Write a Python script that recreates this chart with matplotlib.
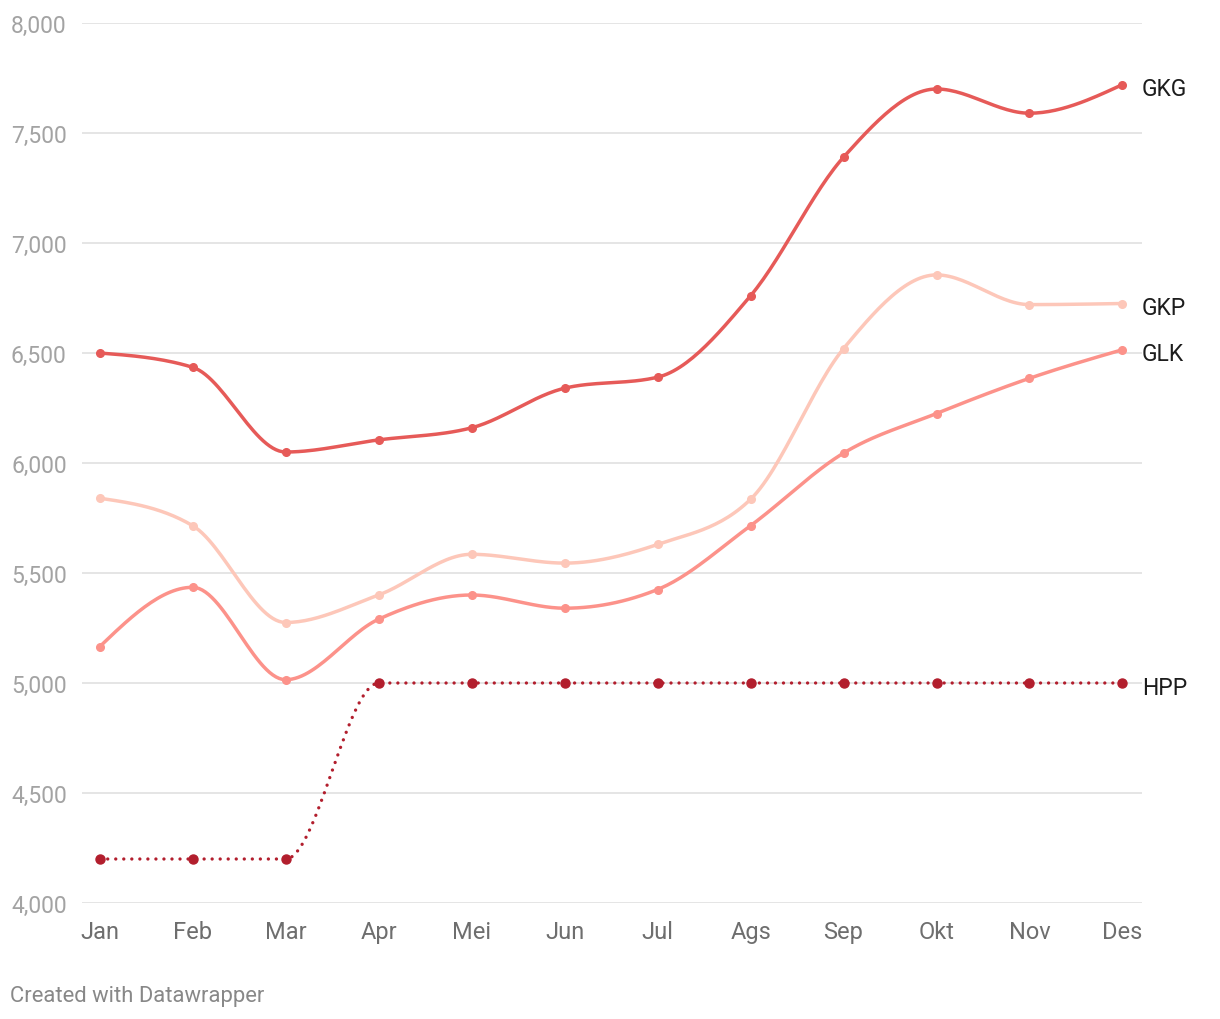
import matplotlib
matplotlib.use('Agg')
import numpy as np
import matplotlib.pyplot as plt

plt.rcParams['font.family'] = ['Roboto', 'DejaVu Sans']

months = ['Jan', 'Feb', 'Mar', 'Apr', 'Mei', 'Jun', 'Jul', 'Ags', 'Sep', 'Okt', 'Nov', 'Des']
gkg = [6500, 6435, 6050, 6105, 6160, 6340, 6390, 6760, 7390, 7700, 7590, 7720]
gkp = [5840, 5715, 5275, 5400, 5585, 5545, 5630, 5835, 6520, 6855, 6720, 6725]
glk = [5165, 5435, 5015, 5290, 5400, 5340, 5425, 5715, 6045, 6225, 6385, 6515]
hpp = [4200, 4200, 4200, 5000, 5000, 5000, 5000, 5000, 5000, 5000, 5000, 5000]
yticks = [4000, 4500, 5000, 5500, 6000, 6500, 7000, 7500, 8000]


def monotone(x, y, n=30):
    # d3 curveMonotoneX style hermite spline
    x = np.asarray(x, float)
    y = np.asarray(y, float)
    h = np.diff(x)
    s = np.diff(y) / h
    t = np.zeros_like(y)
    for i in range(1, len(y) - 1):
        p = (s[i - 1] * h[i] + s[i] * h[i - 1]) / (h[i - 1] + h[i])
        t[i] = (np.sign(s[i - 1]) + np.sign(s[i])) * min(abs(s[i - 1]), abs(s[i]), 0.5 * abs(p))
    t[0] = (3 * s[0] - t[1]) / 2
    t[-1] = (3 * s[-1] - t[-2]) / 2
    xs, ys = [], []
    for i in range(len(x) - 1):
        u = np.linspace(0, 1, n)
        x0 = x[i]
        y0, y1 = y[i], y[i + 1]
        c0, c1 = y0 + h[i] * t[i] / 3, y1 - h[i] * t[i + 1] / 3
        b = (1 - u) ** 3 * y0 + 3 * (1 - u) ** 2 * u * c0 + 3 * (1 - u) * u ** 2 * c1 + u ** 3 * y1
        xs.append(x0 + u * h[i])
        ys.append(b)
    return np.concatenate(xs), np.concatenate(ys)


fig = plt.figure(figsize=(12.2, 10.2), dpi=100)
ax = fig.add_axes([82 / 1220, 1 - 904 / 1020, (1142 - 82) / 1220, 880 / 1020])

x = np.arange(len(months))
series = [
    ('GKP', gkp, '#fdc7b9', '-'),
    ('GLK', glk, '#fc928a', '-'),
    ('GKG', gkg, '#e65a58', '-'),
    ('HPP', hpp, '#b21e2d', 'dot'),
]
for name, vals, col, ls in series:
    sx, sy = monotone(x, vals)
    if ls == 'dot':
        ax.plot(sx, sy, color=col, lw=2.4, linestyle=(0, (0.01, 2.4)),
                dash_capstyle='round', solid_capstyle='round', zorder=3)
        ax.plot(x, vals, 'o', color=col, ms=6.5, zorder=4)
    else:
        ax.plot(sx, sy, color=col, lw=2.5, solid_capstyle='round', zorder=3)
        ax.plot(x, vals, 'o', color=col, ms=5.5, zorder=4)
    ax.annotate(name, xy=(x[-1], vals[-1]), xytext=(14, -3), textcoords='offset points',
                va='center', ha='left', fontsize=16.5, color='#1d1d1d',
                annotation_clip=False)

ax.set_xlim(-0.19, 11.21)
ax.set_ylim(4000, 8000)
ax.set_yticks(yticks)
ax.set_yticklabels(['{:,}'.format(v) for v in yticks])
ax.set_xticks(x)
ax.set_xticklabels(months)
ax.grid(axis='y', color='#e3e3e3', lw=1.3)
ax.grid(axis='x', visible=False)
ax.set_axisbelow(True)
for sp in ax.spines.values():
    sp.set_visible(False)
ax.tick_params(axis='y', length=0, pad=11, labelsize=16.5, labelcolor='#a3a3a3')
ax.tick_params(axis='x', length=0, pad=12, labelsize=17, labelcolor='#6e6e6e')

fig.text(10 / 1220, 1 - 997 / 1020, 'Created with Datawrapper', fontsize=15.8,
         color='#888888', va='center', ha='left')

fig.savefig('out.png', dpi=100)
